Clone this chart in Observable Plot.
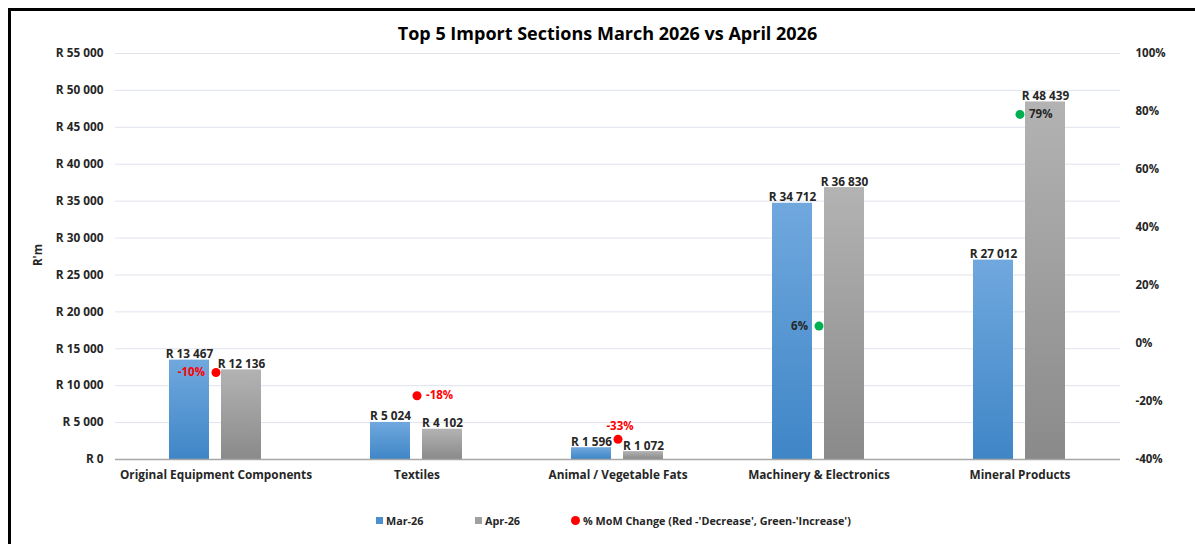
<!DOCTYPE html>
<html>
<head>
<meta charset="utf-8">
<script src="https://cdn.jsdelivr.net/npm/d3@7"></script>
<script src="https://cdn.jsdelivr.net/npm/@observablehq/plot@0.6"></script>
<style>
  html, body { margin: 0; padding: 0; background: #fff; }
  #wrap { position: relative; width: 1195px; height: 544px; overflow: hidden; font-family: 'Open Sans', sans-serif; color: #262626; }
  #frame { position: absolute; left: 8px; top: 8px; width: 1300px; height: 700px; border-left: 3px solid #000; border-top: 3px solid #000; box-sizing: border-box; }
  #title { position: absolute; left: 10px; top: 21px; width: 1195px; text-align: center; font-size: 18px; font-weight: bold; color: #000; }
  #ylab { position: absolute; left: 37px; top: 255px; transform: translate(-50%, -50%) rotate(-90deg); font-size: 11.5px; font-weight: bold; }
  #chart { position: absolute; left: 0; top: 0; }
  .leg { position: absolute; top: 513px; font-size: 10.8px; font-weight: bold; white-space: nowrap; line-height: 16px; }
  .sw { display: inline-block; width: 7px; height: 7px; margin-right: 3px; vertical-align: 1px; }
  .circ { display: inline-block; width: 9px; height: 9px; border-radius: 50%; margin-right: 3px; vertical-align: 0px; background: #ff0000; }
</style>
</head>
<body>
<div id="wrap">
  <div id="frame"></div>
  <div id="chart"></div>
  <div id="title">Top 5 Import Sections March 2026 vs April 2026</div>
  <div id="ylab">R'm</div>
  <div class="leg" style="left:376px"><span class="sw" style="background:#4a8fd0"></span>Mar-26</div>
  <div class="leg" style="left:475px"><span class="sw" style="background:#a0a0a0"></span>Apr-26</div>
  <div class="leg" style="left:571px"><span class="circ"></span>% MoM Change (Red -'Decrease', Green-'Increase')</div>
</div>
<script>
// ---- data ----
const categories = ["Original Equipment Components", "Textiles", "Animal / Vegetable Fats", "Machinery & Electronics", "Mineral Products"];
const seriesNames = ["Mar-26", "Apr-26"];
const mar26 = [13467, 5024, 1596, 34712, 27012];
const apr26 = [12136, 4102, 1072, 36830, 48439];
const momPct = [-10, -18, -33, 6, 79];
const leftTicks = [0, 5000, 10000, 15000, 20000, 25000, 30000, 35000, 40000, 45000, 50000, 55000];
const rightTicks = [-40, -20, 0, 20, 40, 60, 80, 100];

// ---- helpers ----
const yMax = 55000;
const pMin = -40, pMax = 100;
const toY = p => (p - pMin) / (pMax - pMin) * yMax;      // secondary axis mapped onto primary scale
const fromY = v => Math.round(v / yMax * (pMax - pMin) + pMin);
const fmt = v => d3.format(",")(v).replace(/,/g, " ");

const rows = categories.flatMap((c, i) => [
  {cat: c, series: seriesNames[0], value: mar26[i]},
  {cat: c, series: seriesNames[1], value: apr26[i]}
]);
const pctRows = categories.map((c, i) => ({cat: c, pct: momPct[i]}));

// label placement (styling only)
const placement = {
  "Original Equipment Components": "left",
  "Textiles": "right",
  "Animal / Vegetable Fats": "top",
  "Machinery & Electronics": "left",
  "Mineral Products": "right"
};
const placeStyle = {
  left:  {textAnchor: "end",   dx: -11, dy: 0},
  right: {textAnchor: "start", dx: 9,   dy: 0},
  top:   {textAnchor: "middle", dx: 2,  dy: -13}
};
const pctColor = p => p < 0 ? "#ff0000" : "#00b050";
const pctTextColor = p => p < 0 ? "#ff0000" : "#262626";

const pctLabelMarks = Object.keys(placeStyle).map(k =>
  Plot.text(pctRows.filter(d => placement[d.cat] === k), {
    fx: "cat", y: d => toY(d.pct), text: d => d.pct + "%",
    fill: d => pctTextColor(d.pct), textAnchor: placeStyle[k].textAnchor,
    dx: placeStyle[k].dx, dy: placeStyle[k].dy, fontSize: 11.5
  })
);

const svg = Plot.plot({
  width: 1195, height: 490,
  marginLeft: 113, marginRight: 73, marginTop: 53, marginBottom: 31,
  style: {fontFamily: "'Open Sans', sans-serif", fontWeight: "bold", fontSize: "11px", color: "#262626", background: "transparent", overflow: "visible"},
  fx: {domain: categories, padding: 0, label: null},
  x: {domain: seriesNames, paddingInner: 0.226, paddingOuter: 1.02, axis: null},
  y: {domain: [0, yMax], axis: null},
  color: {type: "identity"},
  marks: [
    Plot.ruleY(leftTicks.filter(t => t > 0), {stroke: "#dfe3ec", strokeWidth: 1}),
    Plot.barY(rows.filter(d => d.series === seriesNames[0]), {fx: "cat", x: "series", y: "value", fill: "url(#gBlue)"}),
    Plot.barY(rows.filter(d => d.series === seriesNames[1]), {fx: "cat", x: "series", y: "value", fill: "url(#gGray)"}),
    Plot.ruleY([0], {stroke: "#a6a6a6", strokeWidth: 1.5}),
    Plot.text(rows, {fx: "cat", x: "series", y: "value", text: d => "R " + fmt(d.value), lineAnchor: "bottom", dy: -2, fill: "#262626", fontSize: 11.8}),
    Plot.dot(pctRows, {fx: "cat", y: d => toY(d.pct), r: 4.5, fill: d => pctColor(d.pct), stroke: null}),
    ...pctLabelMarks,
    Plot.axisY({anchor: "left", ticks: leftTicks, tickFormat: d => "R " + fmt(d), tickSize: 0, tickPadding: 12, label: null, fontSize: 11.8}),
    Plot.axisY({anchor: "right", ticks: rightTicks.map(toY), tickFormat: v => fromY(v) + "%", tickSize: 0, tickPadding: 15, label: null, fontSize: 11.5}),
    Plot.axisFx({anchor: "bottom", tickSize: 0, tickPadding: 11, label: null, fontSize: 11.8})
  ]
});

const defs = d3.select(svg).insert("defs", ":first-child");
const grad = (id, top, bottom) => {
  const g = defs.append("linearGradient").attr("id", id).attr("x1", 0).attr("y1", 0).attr("x2", 0).attr("y2", 1);
  g.append("stop").attr("offset", "0%").attr("stop-color", top);
  g.append("stop").attr("offset", "100%").attr("stop-color", bottom);
};
grad("gBlue", "#70a8de", "#3f86c7");
grad("gGray", "#b3b3b3", "#8a8a8a");

document.getElementById("chart").appendChild(svg);
</script>
</body>
</html>
